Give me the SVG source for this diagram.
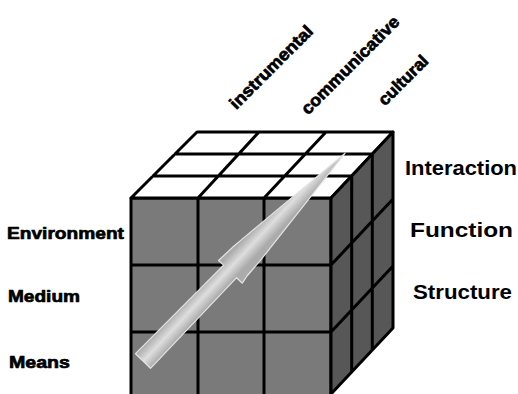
<svg xmlns="http://www.w3.org/2000/svg" width="518" height="394" viewBox="0 0 518 394">
<defs>
<style>
.g{stroke:#000;stroke-width:3;stroke-linejoin:round;stroke-linecap:round;fill:none}
.lbl{font-family:"Liberation Sans",Arial,sans-serif;font-weight:bold;fill:#000}
.heavy{stroke:#000;stroke-width:0.7;stroke-linejoin:round}
.big{font-size:20px}
.sm{font-size:17px}
</style>
<linearGradient id="ag" gradientUnits="userSpaceOnUse" x1="136" y1="354" x2="151" y2="368">
<stop offset="0" stop-color="#ababab"/>
<stop offset="0.5" stop-color="#dedede"/>
<stop offset="1" stop-color="#ababab"/>
</linearGradient>
</defs>
<rect width="518" height="394" fill="#fff"/>
<g id="cube">
<g id="front">
<rect x="131" y="198" width="200" height="198" fill="#7a7a7a"/>
<path class="g" d="M131 198V396M198 198V396M264 198V396M331 198V396M131 198H331M131 265H331M131 332H331"/>
</g>
<g id="top">
<polygon points="131,198 331,198 393,132 197,132" fill="#fff"/>
<path class="g" d="M131 198L197 132H393L331 198ZM153 176H351.7M175 154H372.3M198 198L259 132M264 198L326 132"/>
</g>
<g id="side">
<polygon points="331,198 393,132 393,328 331,394" fill="#575757"/>
<path class="g" d="M331 198L393 132V328L331 394ZM351.7 176V372M372.3 154V350M331 265L393 199M331 332L393 266"/>
</g>
</g>
<g id="connectors">
<polygon id="arrow" points="135.5,353.7 223.6,265.1 218.5,260.5 234,246 241,240.1 345.1,153.1 261,259.7 247,276 242.3,283.2 236.6,277.7 150.5,368.3" fill="url(#ag)" stroke="#e4e4e4" stroke-width="1.2" stroke-linejoin="round"/>
</g>
<g id="label-instrumental"><text class="lbl sm heavy" transform="translate(271,67) rotate(-45)" text-anchor="middle" y="6" textLength="110" lengthAdjust="spacingAndGlyphs">instrumental</text></g>
<g id="label-communicative"><text class="lbl sm heavy" transform="translate(350,65) rotate(-45)" text-anchor="middle" y="6" textLength="131" lengthAdjust="spacingAndGlyphs">communicative</text></g>
<g id="label-cultural"><text class="lbl sm heavy" transform="translate(403,80) rotate(-45)" text-anchor="middle" y="6" textLength="63" lengthAdjust="spacingAndGlyphs">cultural</text></g>
<g id="label-environment"><text class="lbl heavy" font-size="17" x="7" y="239" textLength="117" lengthAdjust="spacingAndGlyphs">Environment</text></g>
<g id="label-medium"><text class="lbl heavy" font-size="17" x="8" y="302" textLength="72" lengthAdjust="spacingAndGlyphs">Medium</text></g>
<g id="label-means"><text class="lbl heavy" font-size="17" x="9" y="368" textLength="61" lengthAdjust="spacingAndGlyphs">Means</text></g>
<g id="label-interaction"><text class="lbl big" x="405" y="175" textLength="112" lengthAdjust="spacingAndGlyphs">Interaction</text></g>
<g id="label-function"><text class="lbl big" x="410" y="237" textLength="103" lengthAdjust="spacingAndGlyphs">Function</text></g>
<g id="label-structure"><text class="lbl big" x="413" y="299" textLength="99" lengthAdjust="spacingAndGlyphs">Structure</text></g>
</svg>
